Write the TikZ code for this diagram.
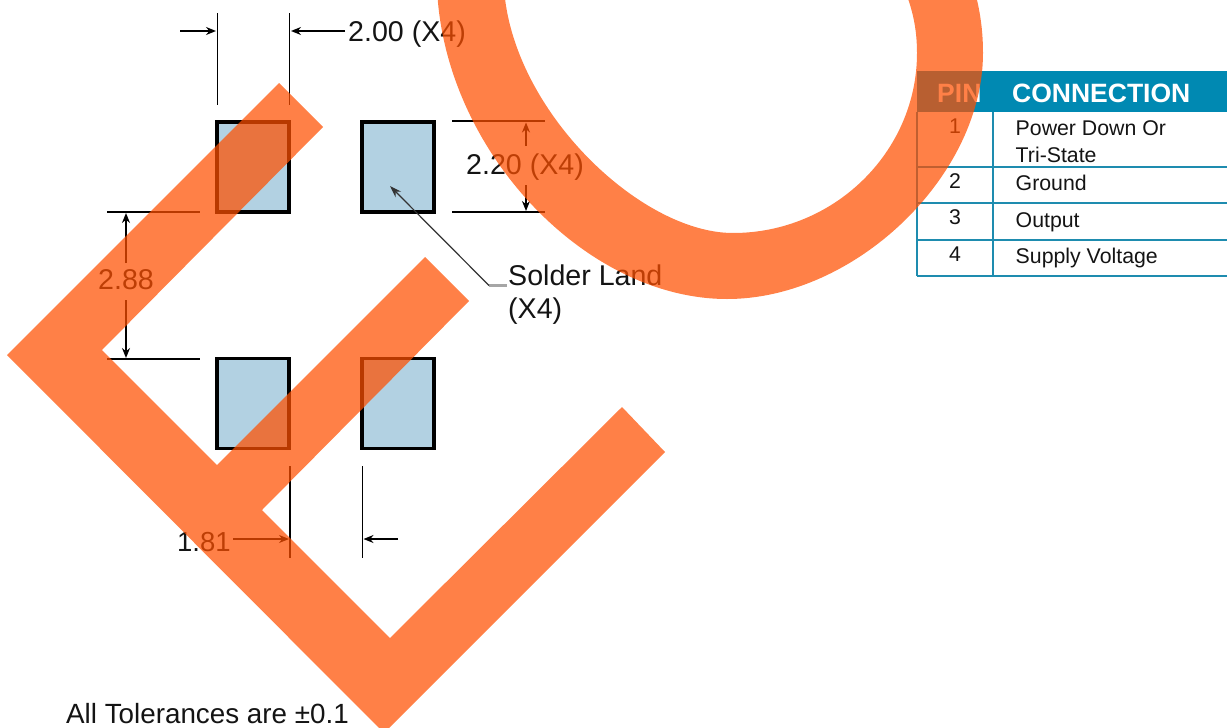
\documentclass[tikz,border=0pt]{standalone}
\usepackage{fontspec}
\setmainfont{Liberation Sans}
\usetikzlibrary{arrows.meta}
\definecolor{padblue}{RGB}{178,209,226}
\definecolor{teal1}{RGB}{0,137,178}
\definecolor{teal2}{RGB}{30,140,175}
\definecolor{mark}{RGB}{255,79,0}
\definecolor{ink}{RGB}{20,20,20}
\tikzset{
  pad/.style={draw=black,fill=padblue,line width=3.4pt,minimum width=72pt,minimum height=90pt,inner sep=0pt,outer sep=0pt},
  ext/.style={draw=black,line width=1.6pt},
  dimarrow/.style={draw=black,line width=1.6pt,-{Stealth[length=10pt,width=8pt]}},
  leader/.style={draw=black!80,line width=1.2pt,-{Stealth[length=12pt,width=8pt]}},
  dimtext/.style={anchor=base west,inner sep=0pt,font=\fontsize{28.6}{32}\selectfont,text=ink},
  tabtext/.style={anchor=base west,inner sep=0pt,font=\fontsize{21.3}{25}\selectfont,text=ink},
  tabnum/.style={anchor=base,inner sep=0pt,font=\fontsize{21.3}{25}\selectfont,text=ink},
  tabhead/.style={anchor=base west,inner sep=0pt,font=\bfseries\fontsize{26.5}{30}\selectfont,text=white},
  tabline/.style={draw=teal2,line width=1.6pt},
  overlay/.style={fill=mark,fill opacity=0.72,draw=none}
}
\begin{document}
\begin{tikzpicture}[x=1pt,y=-1pt]
\useasboundingbox (0,0) rectangle (1227,728);
\clip (0,0) rectangle (1227,728);
% pads
\node[pad] (p1) at (253,167) {};
\node[pad] (p2) at (398,167) {};
\node[pad] (p3) at (253,403.5) {};
\node[pad] (p4) at (398,403.5) {};
% top dimension
\coordinate (a1) at (217.5,13); \coordinate (a2) at (217.5,105);
\coordinate (b1) at (289.5,13); \coordinate (b2) at (289.5,105);
\coordinate (a3) at (180,31); \coordinate (a4) at (216,31);
\coordinate (b3) at (345,31); \coordinate (b4) at (291,31);
\draw[ext] (a1) -- (a2);
\draw[ext] (b1) -- (b2);
\node[dimtext] (t200) at (348,41) {2.00 (X4)};
\draw[dimarrow] (a3) -- (a4);
\draw[dimarrow] (b3) -- (b4);
% right dimension
\coordinate (c1) at (452,121); \coordinate (c2) at (545,121);
\coordinate (d1) at (452,212); \coordinate (d2) at (545,212);
\coordinate (c3) at (526,146); \coordinate (c4) at (526,122.5);
\coordinate (d3) at (526,185); \coordinate (d4) at (526,211);
\draw[ext] (c1) -- (c2);
\draw[ext] (d1) -- (d2);
\draw[dimarrow] (c3) -- (c4);
\draw[dimarrow] (d3) -- (d4);
\node[dimtext] (t220) at (466,174) {2.20 (X4)};
% left dimension
\coordinate (e1) at (107,212); \coordinate (e2) at (200,212);
\coordinate (f1) at (107,359); \coordinate (f2) at (200,359);
\coordinate (e3) at (126,263); \coordinate (e4) at (126,213);
\coordinate (f3) at (126,300); \coordinate (f4) at (126,358);
\draw[ext] (e1) -- (e2);
\draw[ext] (f1) -- (f2);
\draw[dimarrow] (e3) -- (e4);
\draw[dimarrow] (f3) -- (f4);
\node[dimtext] (t288) at (98,289) {2.88};
% bottom dimension
\coordinate (g1) at (290,466); \coordinate (g2) at (290,558);
\coordinate (h1) at (362.5,466); \coordinate (h2) at (362.5,558);
\coordinate (g3) at (233,539); \coordinate (g4) at (289,539);
\coordinate (h3) at (398,539); \coordinate (h4) at (363.5,539);
\draw[ext] (g1) -- (g2);
\draw[ext] (h1) -- (h2);
\draw[dimarrow] (g3) -- (g4);
\draw[dimarrow] (h3) -- (h4);
\node[dimtext,font=\fontsize{27.5}{32}\selectfont] (t181) at (177,551) {1.81};
% solder land
\node[dimtext] (sl) at (508,285) {Solder Land};
\node[dimtext] (sx) at (508,318) {(X4)};
\coordinate (k1) at (489,285.5); \coordinate (k2) at (507,285.5); \coordinate (k3) at (390,186);
\draw[draw=black!35,line width=2.4pt] (k1) -- (k2);
\draw[leader] (k1) -- (k3);
\node[tabtext,anchor=base west,font=\fontsize{27.8}{32}\selectfont] (tol) at (66,723) {All Tolerances are ±0.1};
% table
\fill[teal1] (917,71) rectangle (1227,112);
\node[tabhead] (hpin) at (937,102) {PIN};
\node[tabhead] (hcon) at (1012,102) {CONNECTION};
\coordinate (tl) at (917,112); \coordinate (bl) at (917,276);
\coordinate (ml) at (993,112); \coordinate (mb) at (993,276);
\draw[tabline] (tl) -- (bl);
\draw[tabline] (ml) -- (mb);
\draw[tabline] (917,167) -- (1227,167);
\draw[tabline] (917,203) -- (1227,203);
\draw[tabline] (917,240) -- (1227,240);
\draw[tabline] (917,276) -- (1227,276);
\node[tabnum] (n1) at (955,133) {1};
\node[tabnum] (n2) at (955,188.5) {2};
\node[tabnum] (n3) at (955,224.5) {3};
\node[tabnum] (n4) at (955,261) {4};
\node[tabtext] (r1a) at (1015.5,135) {Power Down Or};
\node[tabtext] (r1b) at (1015.5,162) {Tri-State};
\node[tabtext] (r2) at (1015.5,190) {Ground};
\node[tabtext] (r3) at (1015.5,227) {Output};
\node[tabtext] (r4) at (1015.5,263) {Supply Voltage};
% watermark
\fill[overlay] (279,83) -- (323,127) -- (102,350) -- (217,465) -- (425,257) -- (469,301) -- (262,510) -- (390,638) -- (622,407) -- (665,452) -- (384,733) -- (7,355) -- cycle;
\fill[overlay] (437,-12) .. controls (444,150) and (585,299) .. (727,299)
  .. controls (855,299) and (983,176) .. (983,53)
  .. controls (983,30) and (980,10) .. (974,-12)
  -- (904,-12)
  .. controls (913,10) and (917,30) .. (917,53)
  .. controls (917,152) and (834,233) .. (733,233)
  .. controls (640,233) and (512,110) .. (504,-12) -- cycle;
\end{tikzpicture}
\end{document}
